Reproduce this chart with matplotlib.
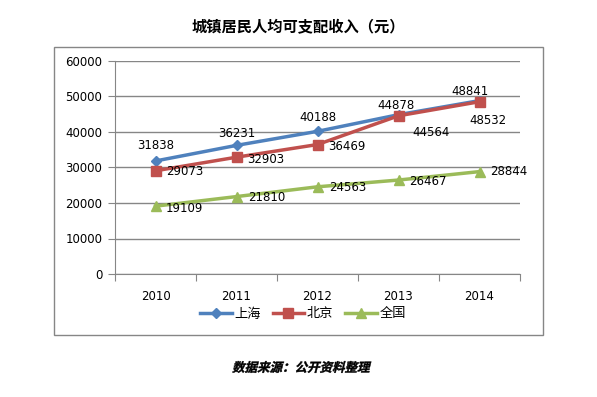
import matplotlib.pyplot as plt
from matplotlib.patches import Rectangle, PathPatch
from matplotlib.textpath import TextPath
from matplotlib.font_manager import FontProperties
from matplotlib.transforms import Affine2D, IdentityTransform

plt.rcParams['font.family'] = ['DejaVu Sans', 'Noto Sans CJK SC']

years = ['2010', '2011', '2012', '2013', '2014']
shanghai = [31838, 36231, 40188, 44878, 48841]
beijing = [29073, 32903, 36469, 44564, 48532]
national = [19109, 21810, 24563, 26467, 28844]
series_names = ['上海', '北京', '全国']

W, H = 597, 397
fig = plt.figure(figsize=(W / 100, H / 100), dpi=100)
ax = fig.add_axes([115 / W, 1 - 274 / H, 405 / W, 213 / H])

x = list(range(len(years)))
ax.plot(x, shanghai, color='#4F81BD', lw=2.5, marker='D', ms=5.5, label=series_names[0])
ax.plot(x, beijing, color='#C0504D', lw=2.5, marker='s', ms=7, label=series_names[1])
ax.plot(x, national, color='#9BBB59', lw=2.5, marker='^', ms=7.5, label=series_names[2])

# label offsets in pixels
fs = 8.5
sh_off = [(0, 15), (0, 12), (0, 14), (-3, 9), (-10, 9)]
bj_off = [(29, -1), (29, -2), (29, -2), (33, -17), (8, -19)]
qg_off = [(29, -2), (30, -1), (30, -1), (29, -1), (29, 0)]
for vals, offs in [(shanghai, sh_off), (beijing, bj_off), (national, qg_off)]:
    for i, v in enumerate(vals):
        ax.annotate(str(v), (i, v), xytext=offs[i], textcoords='offset pixels',
                    ha='center', va='center', fontsize=fs)

ax.set_xlim(-0.5, 4.5)
ax.set_ylim(0, 60000)
ax.set_yticks(range(0, 60001, 10000))
ax.set_yticklabels([str(v) for v in range(0, 60001, 10000)], fontsize=fs)
ax.set_xticks([i - 0.5 for i in range(6)])
ax.set_xticklabels([])
for i, y in enumerate(years):
    ax.text(i, -0.105, y, transform=ax.get_xaxis_transform(), ha='center', va='center', fontsize=fs)
ax.tick_params(axis='y', length=5, color='#868686', pad=4)
ax.tick_params(axis='x', length=5, color='#868686')
ax.grid(axis='y', color='#868686', lw=1)
ax.set_axisbelow(True)
for s in ['top', 'right']:
    ax.spines[s].set_visible(False)
ax.spines['left'].set_color('#868686')
ax.spines['bottom'].set_color('#868686')

fig.legend(loc='center', bbox_to_anchor=(303 / W, 1 - 314 / H), ncol=3, frameon=False,
           handlelength=2.4, columnspacing=0.9, handletextpad=0.2,
           prop={'family': ['Noto Sans CJK SC'], 'size': 9.5})

fig.patches.append(Rectangle((54 / W, 1 - 335 / H), 489 / W, 288 / H, transform=fig.transFigure,
                             fill=False, ec='#868686', lw=1))

fig.text(298 / W, 1 - 27 / H, '城镇居民人均可支配收入（元）', ha='center', va='center',
         fontsize=11, fontweight='bold', family=['Noto Sans CJK SC'])

# source note, slanted by hand because the CJK font has no italic
src = '数据来源：公开资料整理'
tp = TextPath((0, 0), src, size=12.5, prop=FontProperties(family='Noto Sans CJK SC', weight='bold'))
bb = tp.get_extents()
tr = Affine2D().translate(-(bb.x0 + bb.x1) / 2, -(bb.y0 + bb.y1) / 2).skew_deg(14, 0) \
    .translate(302, H - 367)
fig.patches.append(PathPatch(tp, transform=tr + IdentityTransform(), fc='black', ec='black', lw=0.3))

fig.savefig('out.png', dpi=100)
